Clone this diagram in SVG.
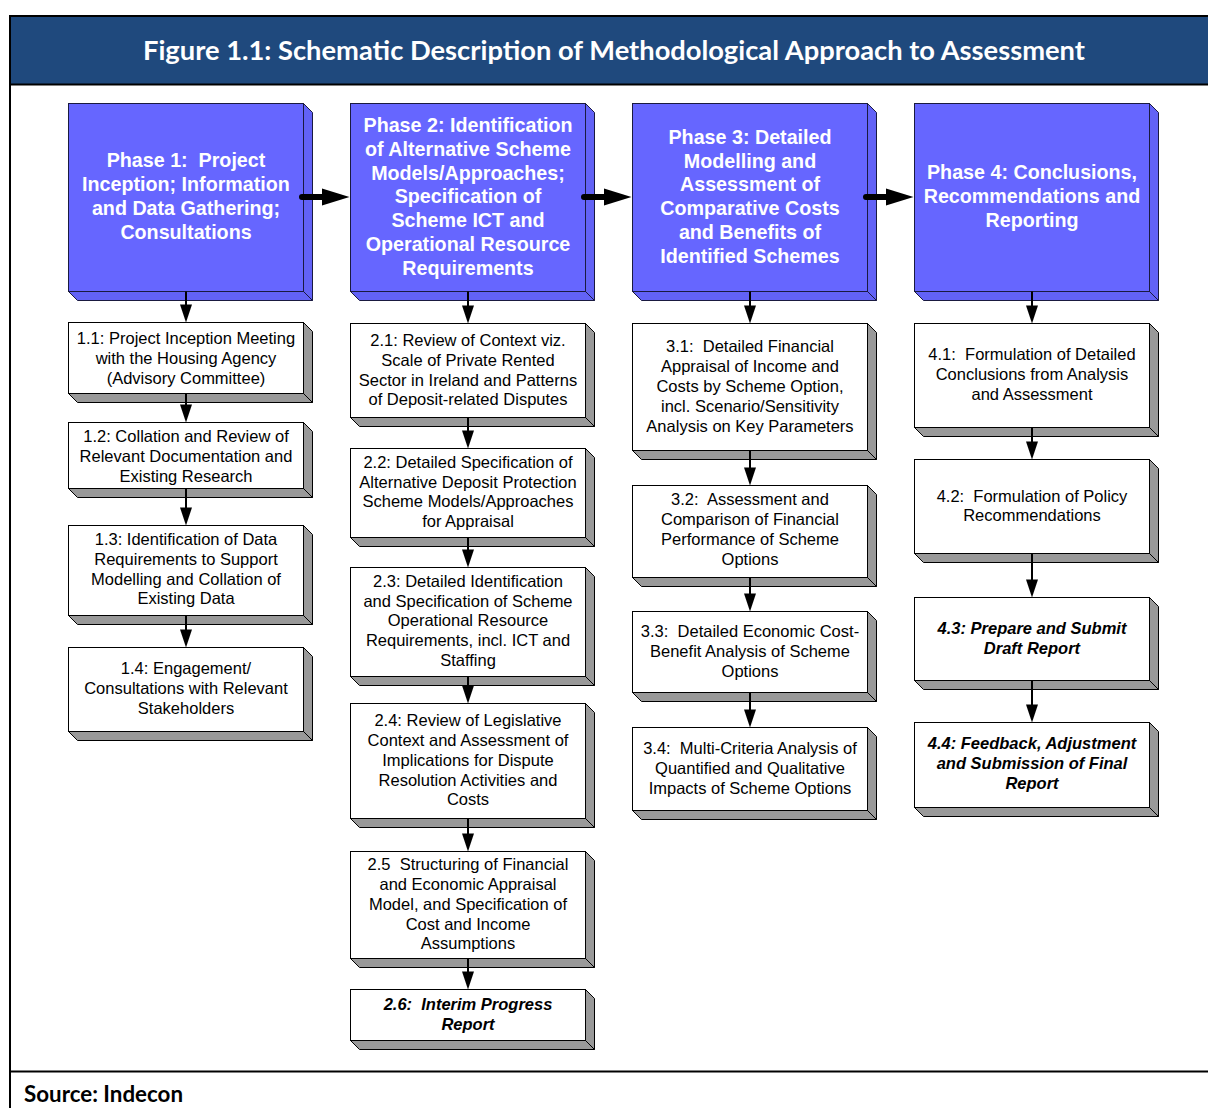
<svg xmlns="http://www.w3.org/2000/svg" width="1208" height="1108" viewBox="0 0 1208 1108">
<defs>
<style>
.pf{fill:#6666FF;stroke:#1a1a40;stroke-width:1}
.ps{fill:#6262F6;stroke:#1a1a40;stroke-width:1}
.bf{fill:#fff;stroke:#000;stroke-width:1}
.bs{fill:#999;stroke:#000;stroke-width:1}
text{white-space:pre}
.pt{font-family:"Liberation Sans",Arial,sans-serif;font-weight:bold;font-size:19.7px;fill:#fff;text-anchor:middle}
.bt{font-family:"Liberation Sans",Arial,sans-serif;font-size:16.5px;fill:#000;text-anchor:middle}
.bi{font-family:"Liberation Sans",Arial,sans-serif;font-size:16.5px;font-weight:bold;font-style:italic;fill:#000;text-anchor:middle}
.ln{stroke:#000;stroke-width:2;fill:none}
.hd{fill:#000}
.hl{stroke:#000;stroke-width:6;stroke-linecap:round;fill:none}
</style>
</defs>
<rect width="1208" height="1108" fill="#fff"/>
<!-- frame -->
<g id="frame">
<rect x="10" y="16" width="1198" height="68" fill="#1F497D"/>
<line x1="9" y1="16" x2="1208" y2="16" stroke="#000" stroke-width="2"/>
<line x1="9" y1="84.5" x2="1208" y2="84.5" stroke="#000" stroke-width="2"/>
<line x1="10" y1="15" x2="10" y2="1108" stroke="#000" stroke-width="2"/>
<line x1="9" y1="1071.5" x2="1208" y2="1071.5" stroke="#000" stroke-width="2"/>
<text x="614" y="60" font-family="Lato,'Open Sans',sans-serif" font-weight="bold" font-size="26" fill="#fff" text-anchor="middle" textLength="942" lengthAdjust="spacingAndGlyphs">Figure 1.1: Schematic Description of Methodological Approach to Assessment</text>
<text x="24" y="1102" font-family="Lato,'Open Sans',sans-serif" font-weight="bold" font-size="22" fill="#000" textLength="159" lengthAdjust="spacingAndGlyphs">Source: Indecon</text>
</g>

<!-- Phase boxes -->
<g id="phase1">
<polygon class="ps" points="303.5,103.5 312.5,112.5 312.5,300.5 303.5,291.5"/>
<polygon class="ps" points="68.5,291.5 303.5,291.5 312.5,300.5 77.5,300.5"/>
<rect class="pf" x="68.5" y="103.5" width="235" height="188"/>
<text class="pt" x="186" y="167">Phase 1:  Project</text>
<text class="pt" x="186" y="191">Inception; Information</text>
<text class="pt" x="186" y="215">and Data Gathering;</text>
<text class="pt" x="186" y="239">Consultations</text>
</g>
<g id="phase2">
<polygon class="ps" points="585.5,103.5 594.5,112.5 594.5,300.5 585.5,291.5"/>
<polygon class="ps" points="350.5,291.5 585.5,291.5 594.5,300.5 359.5,300.5"/>
<rect class="pf" x="350.5" y="103.5" width="235" height="188"/>
<text class="pt" x="468" y="132">Phase 2: Identification</text>
<text class="pt" x="468" y="156">of Alternative Scheme</text>
<text class="pt" x="468" y="179.5">Models/Approaches;</text>
<text class="pt" x="468" y="203">Specification of</text>
<text class="pt" x="468" y="227">Scheme ICT and</text>
<text class="pt" x="468" y="251">Operational Resource</text>
<text class="pt" x="468" y="275">Requirements</text>
</g>
<g id="phase3">
<polygon class="ps" points="867.5,103.5 876.5,112.5 876.5,300.5 867.5,291.5"/>
<polygon class="ps" points="632.5,291.5 867.5,291.5 876.5,300.5 641.5,300.5"/>
<rect class="pf" x="632.5" y="103.5" width="235" height="188"/>
<text class="pt" x="750" y="144">Phase 3: Detailed</text>
<text class="pt" x="750" y="167.5">Modelling and</text>
<text class="pt" x="750" y="191">Assessment of</text>
<text class="pt" x="750" y="215">Comparative Costs</text>
<text class="pt" x="750" y="239">and Benefits of</text>
<text class="pt" x="750" y="263">Identified Schemes</text>
</g>
<g id="phase4">
<polygon class="ps" points="1149.5,103.5 1158.5,112.5 1158.5,300.5 1149.5,291.5"/>
<polygon class="ps" points="914.5,291.5 1149.5,291.5 1158.5,300.5 923.5,300.5"/>
<rect class="pf" x="914.5" y="103.5" width="235" height="188"/>
<text class="pt" x="1032" y="179">Phase 4: Conclusions,</text>
<text class="pt" x="1032" y="203">Recommendations and</text>
<text class="pt" x="1032" y="227">Reporting</text>
</g>

<!-- Column 1 -->
<g id="n1_1">
<polygon class="bs" points="303.5,322.5 312.5,331.5 312.5,402.5 303.5,393.5"/>
<polygon class="bs" points="68.5,393.5 303.5,393.5 312.5,402.5 77.5,402.5"/>
<rect class="bf" x="68.5" y="322.5" width="235" height="71"/>
<text class="bt" x="186" y="344">1.1: Project Inception Meeting</text>
<text class="bt" x="186" y="364">with the Housing Agency</text>
<text class="bt" x="186" y="384">(Advisory Committee)</text>
</g>
<g id="n1_2">
<polygon class="bs" points="303.5,422.5 312.5,431.5 312.5,497.5 303.5,488.5"/>
<polygon class="bs" points="68.5,488.5 303.5,488.5 312.5,497.5 77.5,497.5"/>
<rect class="bf" x="68.5" y="422.5" width="235" height="66"/>
<text class="bt" x="186" y="442">1.2: Collation and Review of</text>
<text class="bt" x="186" y="462">Relevant Documentation and</text>
<text class="bt" x="186" y="482">Existing Research</text>
</g>
<g id="n1_3">
<polygon class="bs" points="303.5,525.5 312.5,534.5 312.5,624.5 303.5,615.5"/>
<polygon class="bs" points="68.5,615.5 303.5,615.5 312.5,624.5 77.5,624.5"/>
<rect class="bf" x="68.5" y="525.5" width="235" height="90"/>
<text class="bt" x="186" y="545">1.3: Identification of Data</text>
<text class="bt" x="186" y="565">Requirements to Support</text>
<text class="bt" x="186" y="585">Modelling and Collation of</text>
<text class="bt" x="186" y="604">Existing Data</text>
</g>
<g id="n1_4">
<polygon class="bs" points="303.5,647.5 312.5,656.5 312.5,740.5 303.5,731.5"/>
<polygon class="bs" points="68.5,731.5 303.5,731.5 312.5,740.5 77.5,740.5"/>
<rect class="bf" x="68.5" y="647.5" width="235" height="84"/>
<text class="bt" x="186" y="674">1.4: Engagement/</text>
<text class="bt" x="186" y="694">Consultations with Relevant</text>
<text class="bt" x="186" y="714">Stakeholders</text>
</g>

<!-- Column 2 -->
<g id="n2_1">
<polygon class="bs" points="585.5,323.5 594.5,332.5 594.5,426.5 585.5,417.5"/>
<polygon class="bs" points="350.5,417.5 585.5,417.5 594.5,426.5 359.5,426.5"/>
<rect class="bf" x="350.5" y="323.5" width="235" height="94"/>
<text class="bt" x="468" y="346">2.1: Review of Context viz.</text>
<text class="bt" x="468" y="366">Scale of Private Rented</text>
<text class="bt" x="468" y="386">Sector in Ireland and Patterns</text>
<text class="bt" x="468" y="405">of Deposit-related Disputes</text>
</g>
<g id="n2_2">
<polygon class="bs" points="585.5,448.5 594.5,457.5 594.5,546.5 585.5,537.5"/>
<polygon class="bs" points="350.5,537.5 585.5,537.5 594.5,546.5 359.5,546.5"/>
<rect class="bf" x="350.5" y="448.5" width="235" height="89"/>
<text class="bt" x="468" y="468">2.2: Detailed Specification of</text>
<text class="bt" x="468" y="487.5">Alternative Deposit Protection</text>
<text class="bt" x="468" y="507">Scheme Models/Approaches</text>
<text class="bt" x="468" y="527">for Appraisal</text>
</g>
<g id="n2_3">
<polygon class="bs" points="585.5,567.5 594.5,576.5 594.5,685.5 585.5,676.5"/>
<polygon class="bs" points="350.5,676.5 585.5,676.5 594.5,685.5 359.5,685.5"/>
<rect class="bf" x="350.5" y="567.5" width="235" height="109"/>
<text class="bt" x="468" y="587">2.3: Detailed Identification</text>
<text class="bt" x="468" y="606.5">and Specification of Scheme</text>
<text class="bt" x="468" y="626">Operational Resource</text>
<text class="bt" x="468" y="646">Requirements, incl. ICT and</text>
<text class="bt" x="468" y="666">Staffing</text>
</g>
<g id="n2_4">
<polygon class="bs" points="585.5,703.5 594.5,712.5 594.5,827.5 585.5,818.5"/>
<polygon class="bs" points="350.5,818.5 585.5,818.5 594.5,827.5 359.5,827.5"/>
<rect class="bf" x="350.5" y="703.5" width="235" height="115"/>
<text class="bt" x="468" y="726">2.4: Review of Legislative</text>
<text class="bt" x="468" y="746">Context and Assessment of</text>
<text class="bt" x="468" y="766">Implications for Dispute</text>
<text class="bt" x="468" y="786">Resolution Activities and</text>
<text class="bt" x="468" y="805">Costs</text>
</g>
<g id="n2_5">
<polygon class="bs" points="585.5,851.5 594.5,860.5 594.5,967.5 585.5,958.5"/>
<polygon class="bs" points="350.5,958.5 585.5,958.5 594.5,967.5 359.5,967.5"/>
<rect class="bf" x="350.5" y="851.5" width="235" height="107"/>
<text class="bt" x="468" y="870">2.5  Structuring of Financial</text>
<text class="bt" x="468" y="890">and Economic Appraisal</text>
<text class="bt" x="468" y="910">Model, and Specification of</text>
<text class="bt" x="468" y="930">Cost and Income</text>
<text class="bt" x="468" y="949">Assumptions</text>
</g>
<g id="n2_6">
<polygon class="bs" points="585.5,989.5 594.5,998.5 594.5,1049.5 585.5,1040.5"/>
<polygon class="bs" points="350.5,1040.5 585.5,1040.5 594.5,1049.5 359.5,1049.5"/>
<rect class="bf" x="350.5" y="989.5" width="235" height="51"/>
<text class="bi" x="468" y="1010">2.6:  Interim Progress</text>
<text class="bi" x="468" y="1030">Report</text>
</g>

<!-- Column 3 -->
<g id="n3_1">
<polygon class="bs" points="867.5,323.5 876.5,332.5 876.5,459.5 867.5,450.5"/>
<polygon class="bs" points="632.5,450.5 867.5,450.5 876.5,459.5 641.5,459.5"/>
<rect class="bf" x="632.5" y="323.5" width="235" height="127"/>
<text class="bt" x="750" y="352">3.1:  Detailed Financial</text>
<text class="bt" x="750" y="372">Appraisal of Income and</text>
<text class="bt" x="750" y="392">Costs by Scheme Option,</text>
<text class="bt" x="750" y="412">incl. Scenario/Sensitivity</text>
<text class="bt" x="750" y="432">Analysis on Key Parameters</text>
</g>
<g id="n3_2">
<polygon class="bs" points="867.5,485.5 876.5,494.5 876.5,586.5 867.5,577.5"/>
<polygon class="bs" points="632.5,577.5 867.5,577.5 876.5,586.5 641.5,586.5"/>
<rect class="bf" x="632.5" y="485.5" width="235" height="92"/>
<text class="bt" x="750" y="505">3.2:  Assessment and</text>
<text class="bt" x="750" y="525">Comparison of Financial</text>
<text class="bt" x="750" y="545">Performance of Scheme</text>
<text class="bt" x="750" y="565">Options</text>
</g>
<g id="n3_3">
<polygon class="bs" points="867.5,611.5 876.5,620.5 876.5,701.5 867.5,692.5"/>
<polygon class="bs" points="632.5,692.5 867.5,692.5 876.5,701.5 641.5,701.5"/>
<rect class="bf" x="632.5" y="611.5" width="235" height="81"/>
<text class="bt" x="750" y="637">3.3:  Detailed Economic Cost-</text>
<text class="bt" x="750" y="657">Benefit Analysis of Scheme</text>
<text class="bt" x="750" y="677">Options</text>
</g>
<g id="n3_4">
<polygon class="bs" points="867.5,727.5 876.5,736.5 876.5,819.5 867.5,810.5"/>
<polygon class="bs" points="632.5,810.5 867.5,810.5 876.5,819.5 641.5,819.5"/>
<rect class="bf" x="632.5" y="727.5" width="235" height="83"/>
<text class="bt" x="750" y="754">3.4:  Multi-Criteria Analysis of</text>
<text class="bt" x="750" y="774">Quantified and Qualitative</text>
<text class="bt" x="750" y="794">Impacts of Scheme Options</text>
</g>

<!-- Column 4 -->
<g id="n4_1">
<polygon class="bs" points="1149.5,323.5 1158.5,332.5 1158.5,436.5 1149.5,427.5"/>
<polygon class="bs" points="914.5,427.5 1149.5,427.5 1158.5,436.5 923.5,436.5"/>
<rect class="bf" x="914.5" y="323.5" width="235" height="104"/>
<text class="bt" x="1032" y="360">4.1:  Formulation of Detailed</text>
<text class="bt" x="1032" y="380">Conclusions from Analysis</text>
<text class="bt" x="1032" y="400">and Assessment</text>
</g>
<g id="n4_2">
<polygon class="bs" points="1149.5,459.5 1158.5,468.5 1158.5,562.5 1149.5,553.5"/>
<polygon class="bs" points="914.5,553.5 1149.5,553.5 1158.5,562.5 923.5,562.5"/>
<rect class="bf" x="914.5" y="459.5" width="235" height="94"/>
<text class="bt" x="1032" y="502">4.2:  Formulation of Policy</text>
<text class="bt" x="1032" y="521">Recommendations</text>
</g>
<g id="n4_3">
<polygon class="bs" points="1149.5,597.5 1158.5,606.5 1158.5,689.5 1149.5,680.5"/>
<polygon class="bs" points="914.5,680.5 1149.5,680.5 1158.5,689.5 923.5,689.5"/>
<rect class="bf" x="914.5" y="597.5" width="235" height="83"/>
<text class="bi" x="1032" y="634">4.3: Prepare and Submit</text>
<text class="bi" x="1032" y="654">Draft Report</text>
</g>
<g id="n4_4">
<polygon class="bs" points="1149.5,722.5 1158.5,731.5 1158.5,816.5 1149.5,807.5"/>
<polygon class="bs" points="914.5,807.5 1149.5,807.5 1158.5,816.5 923.5,816.5"/>
<rect class="bf" x="914.5" y="722.5" width="235" height="85"/>
<text class="bi" x="1032" y="749">4.4: Feedback, Adjustment</text>
<text class="bi" x="1032" y="769">and Submission of Final</text>
<text class="bi" x="1032" y="789">Report</text>
</g>

<!-- Connectors -->
<g id="connectors">
<path class="hl" d="M302,197H324 M584,197H606 M866,197H888"/>
<polygon class="hd" points="322,188.5 349.5,197 322,205.5"/>
<polygon class="hd" points="604,188.5 631.5,197 604,205.5"/>
<polygon class="hd" points="886,188.5 913.5,197 886,205.5"/>

<path class="ln" d="M186,291.5V305 M186,393.5V405 M186,488.5V508 M186,615.5V630
M468,291.5V306 M468,417.5V431 M468,537.5V550 M468,676.5V686 M468,818.5V834 M468,958.5V972
M750,291.5V306 M750,450.5V468 M750,577.5V594 M750,692.5V710
M1032,291.5V306 M1032,427.5V442 M1032,553.5V580 M1032,680.5V705"/>
<g class="hd">
<polygon points="180,304.5 192,304.5 186,322.5"/>
<polygon points="180,404.5 192,404.5 186,422.5"/>
<polygon points="180,507.5 192,507.5 186,525.5"/>
<polygon points="180,629.5 192,629.5 186,647.5"/>
<polygon points="462,305.5 474,305.5 468,323.5"/>
<polygon points="462,430.5 474,430.5 468,448.5"/>
<polygon points="462,549.5 474,549.5 468,567.5"/>
<polygon points="462,685.5 474,685.5 468,703.5"/>
<polygon points="462,833.5 474,833.5 468,851.5"/>
<polygon points="462,971.5 474,971.5 468,989.5"/>
<polygon points="744,305.5 756,305.5 750,323.5"/>
<polygon points="744,467.5 756,467.5 750,485.5"/>
<polygon points="744,593.5 756,593.5 750,611.5"/>
<polygon points="744,709.5 756,709.5 750,727.5"/>
<polygon points="1026,305.5 1038,305.5 1032,323.5"/>
<polygon points="1026,441.5 1038,441.5 1032,459.5"/>
<polygon points="1026,579.5 1038,579.5 1032,597.5"/>
<polygon points="1026,704.5 1038,704.5 1032,722.5"/>
</g>
</g>
</svg>
